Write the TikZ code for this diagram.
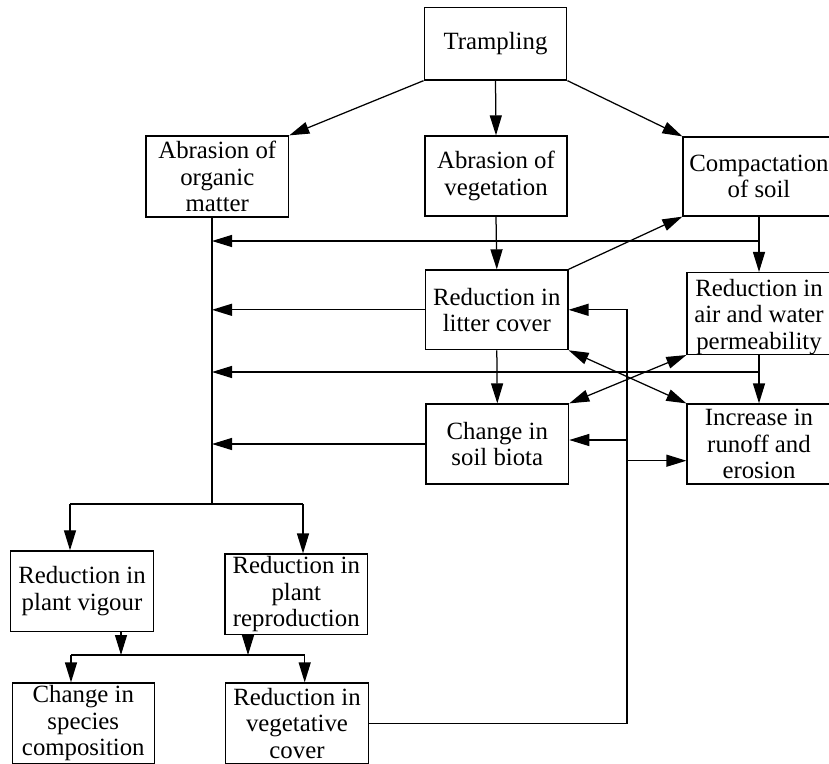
\documentclass[tikz,border=0pt]{standalone}
\usepackage{fontspec}
\setmainfont{Liberation Serif}
\usetikzlibrary{arrows.meta,calc}
\begin{document}
\begin{tikzpicture}[x=1pt,y=-1pt,
  box/.style={draw, line width=1.25pt, align=center, inner sep=0pt,
    font=\fontsize{24.8}{26.5}\selectfont},
  link/.style={line width=1.25pt},
  tip/.tip={Triangle[length=20pt,width=12pt]},
  arr/.style={link, -tip},
  darr/.style={link, tip-tip}]
\useasboundingbox (0,0) rectangle (829,763);
\clip (0,0) rectangle (829,763);

% boxes
\node[box, minimum width=142.7pt, minimum height=72.7pt] (tramp) at (495.5,43.7) {Trampling};
\node[box, minimum width=142.7pt, minimum height=81pt] (organic) at (217.3,176.5) {Abrasion of\\organic\\matter};
\node[box, minimum width=142pt, minimum height=80pt] (veg) at (496,176) {Abrasion of\\vegetation};
\node[box, minimum width=152pt, minimum height=79pt] (compact) at (759,176.5) {Compactation\\of soil};
\node[box, minimum width=142.3pt, minimum height=79.7pt] (litter) at (496.8,309.8) {Reduction in\\litter cover};
\node[box, minimum width=144pt, minimum height=81pt] (perm) at (759,313.5) {\\[-3pt]Reduction in\\air and water\\permeability};
\node[box, minimum width=142.7pt, minimum height=80pt] (biota) at (497.3,444) {Change in\\soil biota};
\node[box, minimum width=144pt, minimum height=80pt] (runoff) at (759,444) {Increase in\\runoff and\\erosion};
\node[box, minimum width=143.4pt, minimum height=80.7pt] (vigour) at (82,591.3) {Reduction in\\plant vigour};
\node[box, minimum width=142.7pt, minimum height=80.3pt] (repro) at (296.3,594.2) {Reduction in\\plant\\reproduction};
\node[box, minimum width=142pt, minimum height=81pt] (species) at (83.3,723.5) {Change in\\species\\composition};
\node[box, minimum width=142.7pt, minimum height=81pt] (vegcov) at (297,723.5) {Reduction in\\vegetative\\cover};

% trampling effects
\draw[arr] (tramp.south west) -- (organic.north east);
\draw[arr] (tramp.south) -- (veg.north);
\draw[arr] (tramp.south east) -- (compact.north west);
\draw[arr] (veg.south) -- (litter.north);
\draw[arr] (litter.north east) -- (compact.south west);
\draw[arr] (compact.south) -- (perm.north);
\draw[arr] (perm.south) -- (runoff.north);
\draw[arr] (litter.south) -- (biota.north);
\draw[darr] (litter.south east) -- (runoff.north west);
\draw[darr] (perm.south west) -- (biota.north east);

% collecting spine under organic matter
\coordinate (spx) at (212,0);
\coordinate (busO) at (212,504);
\coordinate (j1) at (759,241);
\coordinate (j2) at (759,372);
\draw[link] (organic.south -| spx) -- (busO);
\draw[arr] (j1) -- (j1 -| spx);
\draw[arr] (litter.west) -- (litter.west -| spx);
\draw[arr] (j2) -- (j2 -| spx);
\draw[arr] (biota.west) -- (biota.west -| spx);

% plant responses
\coordinate (bL) at (70,504);
\coordinate (bR) at (303,504);
\draw[link] (bL) -- (bR);
\draw[arr] (bL) -- (bL |- vigour.north);
\draw[arr] (bR) -- (bR |- repro.north);
\coordinate (b2L) at (71,655);
\coordinate (b2R) at (304.7,655);
\coordinate (v1) at (121,655);
\coordinate (v2) at (248,655);
\draw[link] (b2L) -- (b2R);
\draw[arr] (v1 |- vigour.south) -- (v1);
\draw[arr] (v2 |- repro.south) -- (v2);
\draw[arr] (b2L) -- (b2L |- species.north);
\draw[arr] (b2R) -- (b2R |- vegcov.north);

% feedback from vegetative cover
\coordinate (fb) at (627,0);
\coordinate (fb1) at (627,440);
\coordinate (fb2) at (627,460.7);
\draw[arr] (vegcov.east) -| (fb |- litter.east) -- (litter.east);
\draw[arr] (fb1) -- (fb1 -| biota.east);
\draw[arr] (fb2) -- (fb2 -| runoff.west);
\end{tikzpicture}
\end{document}
